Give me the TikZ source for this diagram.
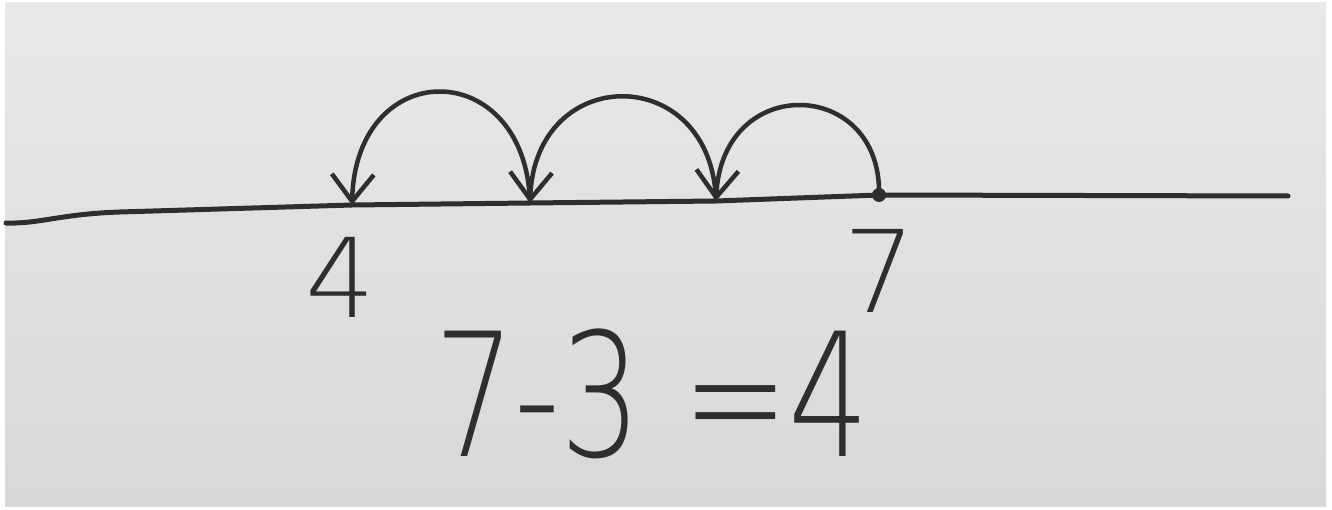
\documentclass[tikz,border=0pt]{standalone}
\usepackage{fontspec}
\setmainfont{Liberation Sans}
\IfFontExistsTF{DejaVu Sans ExtraLight}
  {\newfontfamily\handfont{DejaVu Sans ExtraLight}}
  {\IfFontExistsTF{Lato Light}
    {\newfontfamily\handfont{Lato Light}}
    {\newfontfamily\handfont{Liberation Sans}}}
\usetikzlibrary{arrows.meta}
\definecolor{boardtop}{RGB}{230,232,233}
\definecolor{boardbot}{RGB}{214,216,217}
\definecolor{ink}{RGB}{46,46,46}
\begin{document}
\begin{tikzpicture}[x=1pt,y=-1pt,
  inkline/.style={draw=ink, line width=5pt, line cap=round},
  jump/.style={draw=ink, line width=4.5pt, line cap=round,
    -{Straight Barb[length=27pt,width=42pt,line width=4.5pt]}},
  digit/.style={text=ink, inner sep=0pt, anchor=center}]
\useasboundingbox (0,0) rectangle (1332,510);
\fill[white] (0,0) rectangle (1332,510);
\shade[top color=boardtop, bottom color=boardbot] (5,3) rectangle (1326,506);
% number line
\coordinate (L) at (6,223);
\coordinate (p4) at (352,205);
\coordinate (p5) at (530,203);
\coordinate (p6) at (716,201);
\coordinate (p7) at (879,195);
\coordinate (R) at (1288,196);
\draw[inkline] (L) .. controls (40,224) and (60,214) .. (120,212) -- (p4) -- (p5) -- (p6) -- (p7) -- (R);
% jumps
\draw[jump] (p7) .. controls (882,78) and (722,72) .. (p6);
\draw[jump] (p6) .. controls (712,62) and (535,62) .. (p5);
\draw[jump] (p5) .. controls (526,56) and (356,54) .. (p4);
\fill[ink] (p7) circle (7);
% labels
\node[digit, font=\handfont\fontsize{110}{116}\selectfont] (n4) at (340,277) {4};
\node[digit, font=\handfont\fontsize{114}{120}\selectfont] (n7) at (880,271) {7};
\node[digit, font=\handfont\fontsize{172}{178}\selectfont, xscale=0.74] (eq) at (652,394) {7-3 =4};
\end{tikzpicture}
\end{document}
